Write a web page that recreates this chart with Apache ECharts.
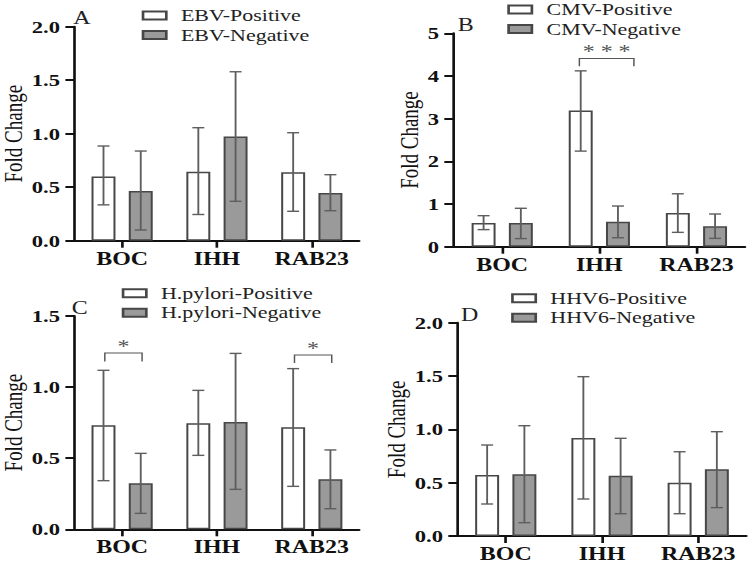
<!DOCTYPE html>
<html>
<head>
<meta charset="utf-8">
<script src="https://cdn.jsdelivr.net/npm/echarts@6/dist/echarts.min.js"></script>
<style>
html,body{margin:0;padding:0;background:#fff;overflow:hidden;}
#wrap{width:749px;height:563px;overflow:hidden;background:#fff;}
#c{width:563px;height:563px;transform:scaleX(1.33037);transform-origin:0 0;}
</style>
</head>
<body>
<div id="wrap"><div id="c"></div></div>
<script>
// ---------- data ----------
const categories = ['BOC', 'IHH', 'RAB23'];

// Panel A: EBV
const ebvPos = [0.60, 0.645, 0.64];
const ebvPosLow = [0.335, 0.245, 0.275];
const ebvPosHigh = [0.885, 1.056, 1.009];
const ebvNeg = [0.465, 0.975, 0.445];
const ebvNegLow = [0.10, 0.368, 0.28];
const ebvNegHigh = [0.838, 1.579, 0.617];

// Panel B: CMV
const cmvPos = [0.555, 3.19, 0.79];
const cmvPosLow = [0.40, 2.24, 0.336];
const cmvPosHigh = [0.727, 4.12, 1.24];
const cmvNeg = [0.555, 0.586, 0.477];
const cmvNegLow = [0.19, 0.21, 0.195];
const cmvNegHigh = [0.90, 0.953, 0.766];
const cmvSig = [[1, 4.41, 4.23, '* * *']];

// Panel C: H.pylori
const hpPos = [0.731, 0.745, 0.717];
const hpPosLow = [0.342, 0.52, 0.302];
const hpPosHigh = [1.118, 0.977, 1.13];
const hpNeg = [0.323, 0.755, 0.352];
const hpNegLow = [0.112, 0.281, 0.145];
const hpNegHigh = [0.534, 1.237, 0.558];
const hpSig = [[0, 1.24, 1.18, '*'], [2, 1.226, 1.17, '*']];

// Panel D: HHV6
const hhvPos = [0.572, 0.919, 0.50];
const hhvPosLow = [0.30, 0.347, 0.209];
const hhvPosHigh = [0.853, 1.494, 0.79];
const hhvNeg = [0.578, 0.566, 0.625];
const hhvNegLow = [0.125, 0.209, 0.266];
const hhvNegHigh = [1.034, 0.916, 0.978];

// tick settings
const axisMax = [2, 5, 1.5, 2];
const axisInterval = [0.5, 1, 0.5, 0.5];
const panelLetters = ['A', 'B', 'C', 'D'];

// ---------- styling / layout ----------
const FONT = 'Liberation Serif, Times New Roman, serif';
const BAR_W = 18, BAR_GAP = 10;
const INK = '#111';

const grids = [
  {left: 52, top: 26.7, width: 218, height: 214},
  {left: 341, top: 33.3, width: 219, height: 213.4},
  {left: 52, top: 316, width: 218, height: 213.3},
  {left: 344, top: 322.7, width: 217, height: 213.3}
];
const nameGaps = [32, 21, 31, 30];
const legendPos = [
  {left: 106.5, top: 7},
  {left: 381.3, top: 1},
  {left: 91.5, top: 284.8},
  {left: 384.2, top: 289.8}
];
const titlePos = [
  {left: 55, top: 9},
  {left: 344, top: 16},
  {left: 54, top: 299},
  {left: 346.5, top: 306}
];
const bracketSpan = [null, [-15, 26], [-13, 15], null];

function barSeries(i, name, data, positive) {
  return {
    type: 'bar', name: name, xAxisIndex: i, yAxisIndex: i, data: data,
    barWidth: BAR_W, barGap: (BAR_GAP / BAR_W * 100) + '%',
    itemStyle: {color: positive ? '#ffffff' : '#9a9a9a', borderColor: '#474747', borderWidth: 1.5},
    z: 2
  };
}

function errSeries(i, lows, highs, side) {
  return {
    type: 'custom', xAxisIndex: i, yAxisIndex: i, silent: true, z: 5,
    data: lows.map((l, k) => [k, l, highs[k]]),
    renderItem: function (params, api) {
      const idx = api.value(0);
      const x = api.coord([idx, 0])[0] + side * (BAR_W + BAR_GAP) / 2;
      const yLo = api.coord([idx, api.value(1)])[1];
      const yHi = api.coord([idx, api.value(2)])[1];
      const hw = 4.5;
      const st = {stroke: '#5e5e5e', lineWidth: 1.4};
      return {type: 'group', children: [
        {type: 'line', shape: {x1: x, y1: yHi, x2: x, y2: yLo}, style: st},
        {type: 'line', shape: {x1: x - hw, y1: yHi, x2: x + hw, y2: yHi}, style: st},
        {type: 'line', shape: {x1: x - hw, y1: yLo, x2: x + hw, y2: yLo}, style: st}
      ]};
    }
  };
}

function sigSeries(i, sig) {
  const span = bracketSpan[i];
  return {
    type: 'custom', xAxisIndex: i, yAxisIndex: i, silent: true, z: 6,
    data: sig.map(s => [s[0], s[1], s[2]]),
    renderItem: function (params, api) {
      const idx = api.value(0);
      const cx = api.coord([idx, 0])[0];
      const yTop = api.coord([idx, api.value(1)])[1];
      const yLeg = api.coord([idx, api.value(2)])[1];
      const x1 = cx + span[0], x2 = cx + span[1];
      const label = sig[params.dataIndex][3];
      return {type: 'group', children: [
        {type: 'polyline', shape: {points: [[x1, yLeg], [x1, yTop], [x2, yTop], [x2, yLeg]]},
         style: {stroke: '#555', lineWidth: 1.1, fill: null}},
        {type: 'text', style: {text: label, x: (x1 + x2) / 2, y: yTop + 3,
          align: 'center', verticalAlign: 'bottom', fill: '#555',
          font: '18px ' + FONT}}
      ]};
    }
  };
}

const panels = [
  {pos: ['EBV-Positive', ebvPos, ebvPosLow, ebvPosHigh], neg: ['EBV-Negative', ebvNeg, ebvNegLow, ebvNegHigh], sig: null},
  {pos: ['CMV-Positive', cmvPos, cmvPosLow, cmvPosHigh], neg: ['CMV-Negative', cmvNeg, cmvNegLow, cmvNegHigh], sig: cmvSig},
  {pos: ['H.pylori-Positive', hpPos, hpPosLow, hpPosHigh], neg: ['H.pylori-Negative', hpNeg, hpNegLow, hpNegHigh], sig: hpSig},
  {pos: ['HHV6-Positive', hhvPos, hhvPosLow, hhvPosHigh], neg: ['HHV6-Negative', hhvNeg, hhvNegLow, hhvNegHigh], sig: null}
];

const option = {
  backgroundColor: '#fff',
  animation: false,
  title: panelLetters.map((t, i) => ({
    text: t, left: titlePos[i].left, top: titlePos[i].top, padding: 0,
    textStyle: {fontFamily: FONT, fontWeight: 'normal', fontSize: 18, color: '#222'}
  })),
  grid: grids.map(g => Object.assign({containLabel: false}, g)),
  legend: panels.map((p, i) => ({
    data: [p.pos[0], p.neg[0]], orient: 'vertical',
    left: legendPos[i].left, top: legendPos[i].top, padding: 0,
    itemWidth: 17.5, itemHeight: 8, itemGap: 2.5, icon: 'rect', selectedMode: false,
    textStyle: {fontFamily: FONT, fontSize: 16.5, color: '#222', lineHeight: 17, padding: [0, 0, 0, 6]}
  })),
  xAxis: grids.map((g, i) => ({
    gridIndex: i, type: 'category', data: categories,
    axisLine: {show: true, lineStyle: {color: INK, width: 2}},
    axisTick: {show: true, interval: 0, alignWithLabel: true, length: 7, lineStyle: {color: INK, width: 2}},
    axisLabel: {interval: 0, hideOverlap: false, fontFamily: FONT, fontWeight: 'bold', fontSize: 18, color: INK, margin: 9},
    splitLine: {show: false}
  })),
  yAxis: grids.map((g, i) => ({
    gridIndex: i, type: 'value', min: 0, max: axisMax[i], interval: axisInterval[i],
    axisLine: {show: true, lineStyle: {color: INK, width: 2}},
    axisTick: {show: true, length: 7, lineStyle: {color: INK, width: 2}},
    axisLabel: {fontFamily: FONT, fontWeight: 'bold', fontSize: 17, color: INK, margin: 11,
      formatter: v => (axisInterval[i] < 1 ? v.toFixed(1) : String(v))},
    splitLine: {show: false},
    name: 'Fold Change', nameLocation: 'middle', nameGap: nameGaps[i],
    nameTextStyle: {fontFamily: FONT, fontSize: 19, color: INK}
  })),
  series: []
};

panels.forEach((p, i) => {
  option.series.push(barSeries(i, p.pos[0], p.pos[1], true));
  option.series.push(barSeries(i, p.neg[0], p.neg[1], false));
  option.series.push(errSeries(i, p.pos[2], p.pos[3], -1));
  option.series.push(errSeries(i, p.neg[2], p.neg[3], 1));
  if (p.sig) option.series.push(sigSeries(i, p.sig));
});

const chart = echarts.init(document.getElementById('c'), null, {renderer: 'svg', width: 563, height: 563});
chart.setOption(option);
</script>
</body>
</html>
